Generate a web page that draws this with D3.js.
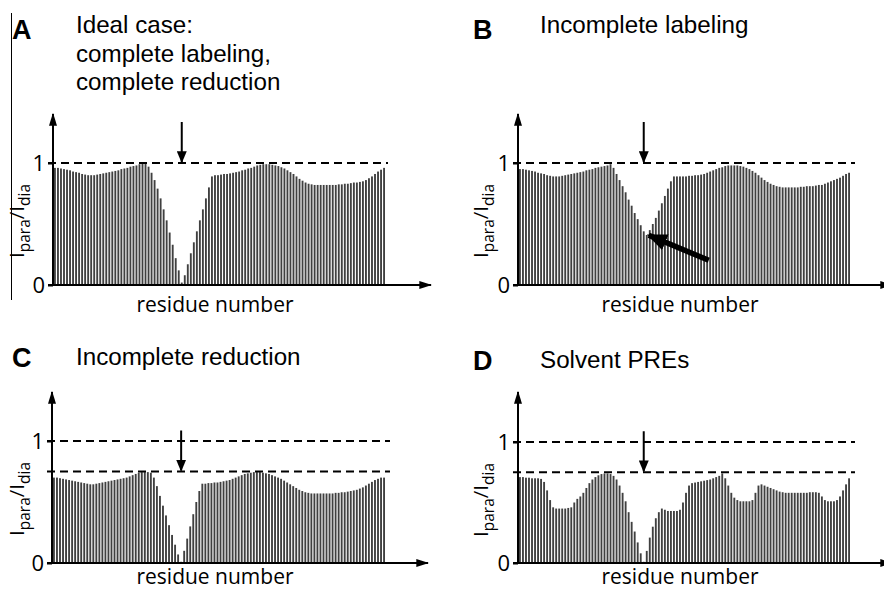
<!DOCTYPE html>
<html><head><meta charset="utf-8">
<script src="https://cdn.jsdelivr.net/npm/d3@7"></script>
<style>body{margin:0;background:#fff}</style>
</head><body><svg id="c" width="884" height="593"></svg>
<script>
// ---- data ----
const seriesA = [0.96,0.96,0.955,0.95,0.945,0.94,0.93,0.925,0.92,0.91,0.905,0.90,0.90,
 0.90,0.905,0.91,0.915,0.92,0.925,0.93,0.935,0.94,0.95,0.955,0.96,0.97,0.975,0.98,0.99,0.995,1.0,
 0.97,0.92,0.86,0.79,0.71,0.62,0.53,0.43,0.33,0.22,0.12,0.02,
 0.08,0.17,0.26,0.35,0.44,0.53,0.62,0.71,0.80,0.89,
 0.90,0.90,0.905,0.91,0.91,0.915,0.92,0.925,0.93,0.94,0.945,0.955,0.96,0.97,0.98,0.985,0.99,0.99,
 0.99,0.985,0.98,0.975,0.965,0.955,0.94,0.925,0.91,0.89,0.87,0.855,0.84,0.83,0.825,0.82,
 0.82,0.82,0.82,0.82,0.82,0.82,0.82,0.825,0.825,0.83,0.83,0.835,0.84,0.84,0.845,0.85,
 0.86,0.875,0.89,0.91,0.93,0.945,0.96];
const seriesB = [0.95,0.95,0.945,0.94,0.935,0.93,0.92,0.915,0.91,0.90,0.895,0.89,0.89,
 0.89,0.895,0.90,0.905,0.91,0.915,0.92,0.925,0.93,0.94,0.945,0.95,0.96,0.965,0.97,0.975,0.98,0.99,
 0.96,0.91,0.86,0.81,0.76,0.70,0.65,0.59,0.54,0.49,0.44,0.41,
 0.45,0.50,0.55,0.61,0.67,0.73,0.79,0.85,0.89,0.89,
 0.89,0.89,0.89,0.895,0.895,0.90,0.90,0.905,0.91,0.92,0.93,0.94,0.95,0.96,0.965,0.975,0.98,0.98,
 0.98,0.98,0.975,0.97,0.96,0.95,0.935,0.92,0.90,0.88,0.86,0.845,0.83,0.82,0.81,0.805,
 0.80,0.80,0.80,0.80,0.80,0.80,0.805,0.805,0.81,0.81,0.81,0.815,0.82,0.82,0.83,0.84,
 0.85,0.86,0.87,0.88,0.895,0.91,0.92];
const seriesC = [0.70,0.70,0.695,0.69,0.685,0.68,0.675,0.67,0.665,0.66,0.655,0.65,0.645,
 0.645,0.65,0.655,0.66,0.665,0.67,0.675,0.68,0.685,0.69,0.695,0.70,0.71,0.72,0.73,0.74,0.745,0.745,0.745,0.74,
 0.70,0.63,0.55,0.47,0.39,0.31,0.23,0.15,0.07,0.01,
 0.10,0.20,0.30,0.40,0.50,0.59,0.65,
 0.65,0.655,0.655,0.66,0.66,0.665,0.67,0.675,0.68,0.69,0.70,0.71,0.72,0.73,0.735,0.74,0.745,0.745,0.745,0.74,
 0.735,0.73,0.72,0.71,0.70,0.69,0.675,0.66,0.645,0.63,0.615,0.60,0.59,0.58,0.575,0.57,
 0.57,0.57,0.57,0.57,0.57,0.57,0.57,0.575,0.575,0.58,0.58,0.585,0.59,0.595,0.60,0.61,0.62,
 0.635,0.65,0.665,0.68,0.69,0.70,0.70];
const seriesD = [0.71,0.71,0.705,0.705,0.70,0.70,0.70,0.695,
 0.67,0.60,0.52,0.46,
 0.45,0.45,0.45,0.45,0.455,0.46,
 0.50,0.53,0.55,0.58,0.62,0.66,
 0.69,0.71,0.725,0.735,0.74,0.74,0.735,
 0.72,0.69,0.64,0.58,0.51,
 0.42,0.34,0.26,0.17,0.08,0.01,
 0.10,0.21,0.30,0.37,0.42,0.45,
 0.44,0.43,0.43,0.43,0.43,0.44,
 0.50,0.58,0.64,0.66,
 0.665,0.67,0.675,0.68,0.685,0.69,0.70,0.71,0.72,0.74,
 0.70,0.64,0.58,0.54,0.52,
 0.51,0.51,0.51,0.51,0.52,
 0.58,0.64,0.65,0.64,
 0.63,0.62,0.61,0.60,0.59,
 0.585,0.58,0.58,0.58,0.58,0.58,0.58,0.58,0.58,0.585,0.585,0.585,0.58,
 0.55,0.52,0.51,0.51,0.51,
 0.52,0.55,0.60,0.65,0.70];
const yTickValues = [0, 1];
const panelLetters = ["A", "B", "C", "D"];
const panelTitles = [["Ideal case:", "complete labeling,", "complete reduction"], ["Incomplete labeling"], ["Incomplete reduction"], ["Solvent PREs"]];
const referenceLevels = [[1], [1], [1, 0.75], [1, 0.75]];
const spinLabelResidue = [43, 42, 43, 42];
const xAxisLabel = "residue number";

// ---- layout ----
const layout = [
  {ox:53,  y0:285, y1:163, top:114, barsEnd:385, dashEnd:388, xEnd:431, lx:12,  ly:39,  tx:76,  ty:33,  ylx:24,  yly:221, xly:312, xlx:215},
  {ox:518, y0:285, y1:163, top:114, barsEnd:850, dashEnd:855, xEnd:892, lx:473, ly:39,  tx:540, ty:33,  ylx:488, yly:221, xly:312, xlx:680},
  {ox:52,  y0:563, y1:441, top:392, barsEnd:385, dashEnd:390, xEnd:428, lx:12,  ly:367, tx:76,  ty:365, ylx:24,  yly:499, xly:584, xlx:215},
  {ox:518, y0:563, y1:442, top:392, barsEnd:850, dashEnd:855, xEnd:892, lx:473, ly:370, tx:540, ty:368, ylx:488, yly:500, xly:584, xlx:680}
];
const allSeries = [seriesA, seriesB, seriesC, seriesD];

const svg = d3.select("#c");
const defs = svg.append("defs");
function marker(id, w, l) {
  defs.append("marker").attr("id", id).attr("markerUnits", "userSpaceOnUse")
    .attr("viewBox", "0 0 10 10").attr("refX", 9).attr("refY", 5)
    .attr("markerWidth", l).attr("markerHeight", w).attr("orient", "auto")
    .attr("preserveAspectRatio", "none")
    .append("path").attr("d", "M0,0 L10,5 L0,10 z").attr("fill", "#000");
}
marker("axisHead", 8, 13);
marker("smallHead", 10, 12);
marker("bigHead", 17, 20);

const textFont = "'Liberation Sans', Arial, sans-serif";
const axisFont = "'Open Sans', 'Noto Sans', sans-serif";

// left border line in panel A
svg.append("line").attr("x1", 11.5).attr("x2", 11.5).attr("y1", 13).attr("y2", 300)
  .attr("stroke", "#000").attr("stroke-width", 1);

allSeries.forEach((series, p) => {
  const L = layout[p];
  const g = svg.append("g");
  const residues = series.map((d, i) => i + 1);
  const x = d3.scaleBand().domain(residues).range([L.ox + 1, L.barsEnd]).paddingInner(0.38).paddingOuter(0);
  const y = d3.scaleLinear().domain([0, 1]).range([L.y0, L.y1]);

  // bars
  g.selectAll("rect.bar").data(series).join("rect").attr("class", "bar")
    .attr("x", (d, i) => x(residues[i]))
    .attr("width", x.bandwidth())
    .attr("y", d => y(d))
    .attr("height", d => y(0) - y(d))
    .attr("fill", "#404040");

  // reference dashed lines
  referenceLevels[p].forEach(v => {
    g.append("line").attr("x1", L.ox - 5).attr("x2", L.dashEnd)
      .attr("y1", y(v)).attr("y2", y(v))
      .attr("stroke", "#000").attr("stroke-width", 2).attr("stroke-dasharray", "8,5");
  });

  // y axis ticks / labels
  const ax = g.append("g").attr("transform", `translate(${L.ox},0)`)
    .call(d3.axisLeft(y).tickValues(yTickValues).tickFormat(d3.format("d")).tickSize(5).tickPadding(3));
  ax.select(".domain").remove();
  ax.selectAll(".tick line").attr("stroke-width", 2);
  ax.selectAll(".tick text").attr("font-family", axisFont).attr("font-size", 22).attr("fill", "#000");

  // axis lines with arrows
  g.append("line").attr("x1", L.ox).attr("x2", L.ox).attr("y1", L.y0 + 1).attr("y2", L.top)
    .attr("stroke", "#000").attr("stroke-width", 2).attr("marker-end", "url(#axisHead)");
  g.append("line").attr("x1", L.ox - 5).attr("x2", L.xEnd).attr("y1", L.y0).attr("y2", L.y0)
    .attr("stroke", "#000").attr("stroke-width", 2).attr("marker-end", "url(#axisHead)");

  // small downward arrow marking spin label position
  const levels = referenceLevels[p];
  const ax0 = x(spinLabelResidue[p]) + x.bandwidth() / 2;
  const targetY = y(d3.min(levels)) - 1;
  g.append("line").attr("x1", ax0).attr("x2", ax0)
    .attr("y1", targetY - 40).attr("y2", targetY)
    .attr("stroke", "#000").attr("stroke-width", 2).attr("marker-end", "url(#smallHead)");

  // big arrow in panel B
  if (p === 1) {
    const r = spinLabelResidue[p];
    const bx = x(r) + x.bandwidth() / 2 + 5, by = y(series[r - 1]) + 4;
    g.append("line").attr("x1", bx + 60).attr("x2", bx)
      .attr("y1", by + 25).attr("y2", by)
      .attr("stroke", "#000").attr("stroke-width", 5.5).attr("marker-end", "url(#bigHead)");
  }

  // y label
  const yl = g.append("text").attr("transform", `translate(${L.ylx},${L.yly}) rotate(-90)`)
    .attr("text-anchor", "middle").attr("font-family", axisFont).attr("font-size", 20.5).attr("fill", "#000");
  yl.append("tspan").text("I");
  yl.append("tspan").attr("font-size", 15.5).attr("dy", 6).text("para");
  yl.append("tspan").attr("dy", -6).text("/I");
  yl.append("tspan").attr("font-size", 15.5).attr("dy", 6).text("dia");

  // x label
  g.append("text").attr("x", L.xlx).attr("y", L.xly).attr("text-anchor", "middle")
    .attr("font-family", axisFont).attr("font-size", 21).attr("fill", "#000").text(xAxisLabel);

  // panel letter and title
  g.append("text").attr("x", L.lx).attr("y", L.ly).attr("font-family", textFont)
    .attr("font-weight", "bold").attr("font-size", 27).attr("fill", "#000").text(panelLetters[p]);
  panelTitles[p].forEach((t, k) => {
    g.append("text").attr("x", L.tx).attr("y", L.ty + k * 28.5).attr("font-family", textFont)
      .attr("font-size", 24.2).attr("fill", "#000").text(t);
  });
});
</script></body></html>
